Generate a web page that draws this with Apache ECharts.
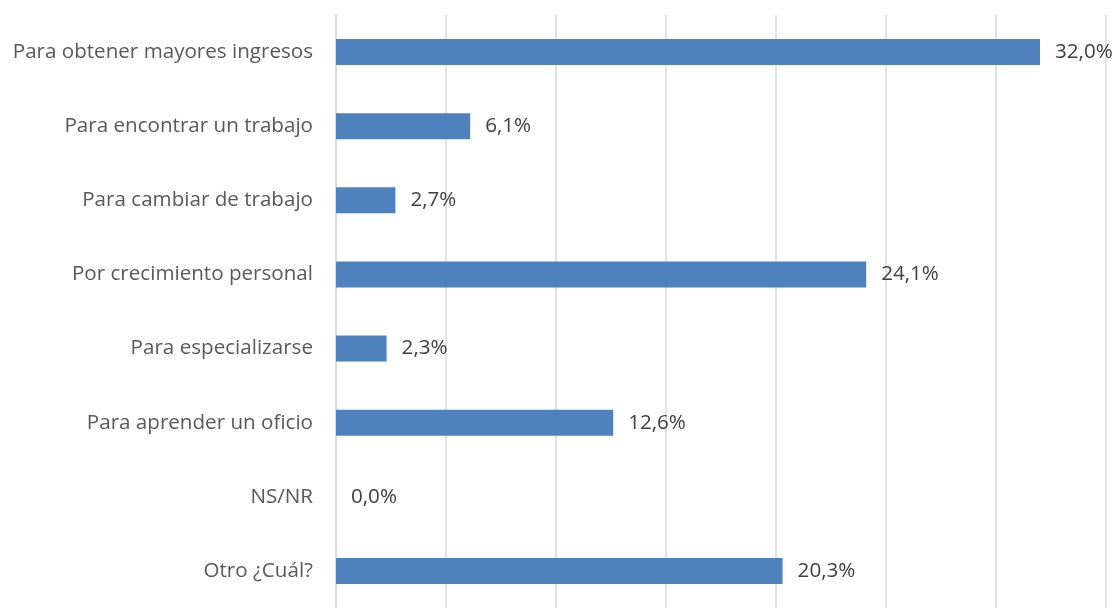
<!DOCTYPE html>
<html><head><meta charset="utf-8">
<script src="https://cdn.jsdelivr.net/npm/echarts@6/dist/echarts.min.js"></script>
<style>html,body{margin:0;padding:0;background:#fff}#c{width:1115px;height:608px}</style>
</head><body><div id="c"></div>
<script>
const categories = ["Para obtener mayores ingresos","Para encontrar un trabajo","Para cambiar de trabajo","Por crecimiento personal","Para especializarse","Para aprender un oficio","NS/NR","Otro ¿Cuál?"];
const values = [32.0, 6.1, 2.7, 24.1, 2.3, 12.6, 0.0, 20.3];
const chart = echarts.init(document.getElementById('c'));
const font = "'Open Sans', sans-serif";
chart.setOption({
  animation:false,
  grid:{left:336, right:9, top:15, height:598, containLabel:false},
  xAxis:{type:'value', min:0, max:35, interval:5,
    axisLabel:{show:false}, axisLine:{show:false}, axisTick:{show:false},
    splitLine:{show:true, lineStyle:{color:'#d9d9d9', width:1.5}}},
  yAxis:{type:'category', data:categories, inverse:true,
    axisLine:{show:true, lineStyle:{color:'#d9d9d9', width:1.5}},
    axisTick:{show:false},
    axisLabel:{color:'#595959', fontSize:20.6, fontFamily:font, margin:23}},
  series:[{type:'bar', data:values, barWidth:26,
    itemStyle:{color:'#4f81bd'},
    label:{show:true, position:'right', distance:15, color:'#404040', fontSize:20.6, fontFamily:font,
      formatter:p=>p.value.toFixed(1).replace('.',',')+'%'}}]
});
</script></body></html>
